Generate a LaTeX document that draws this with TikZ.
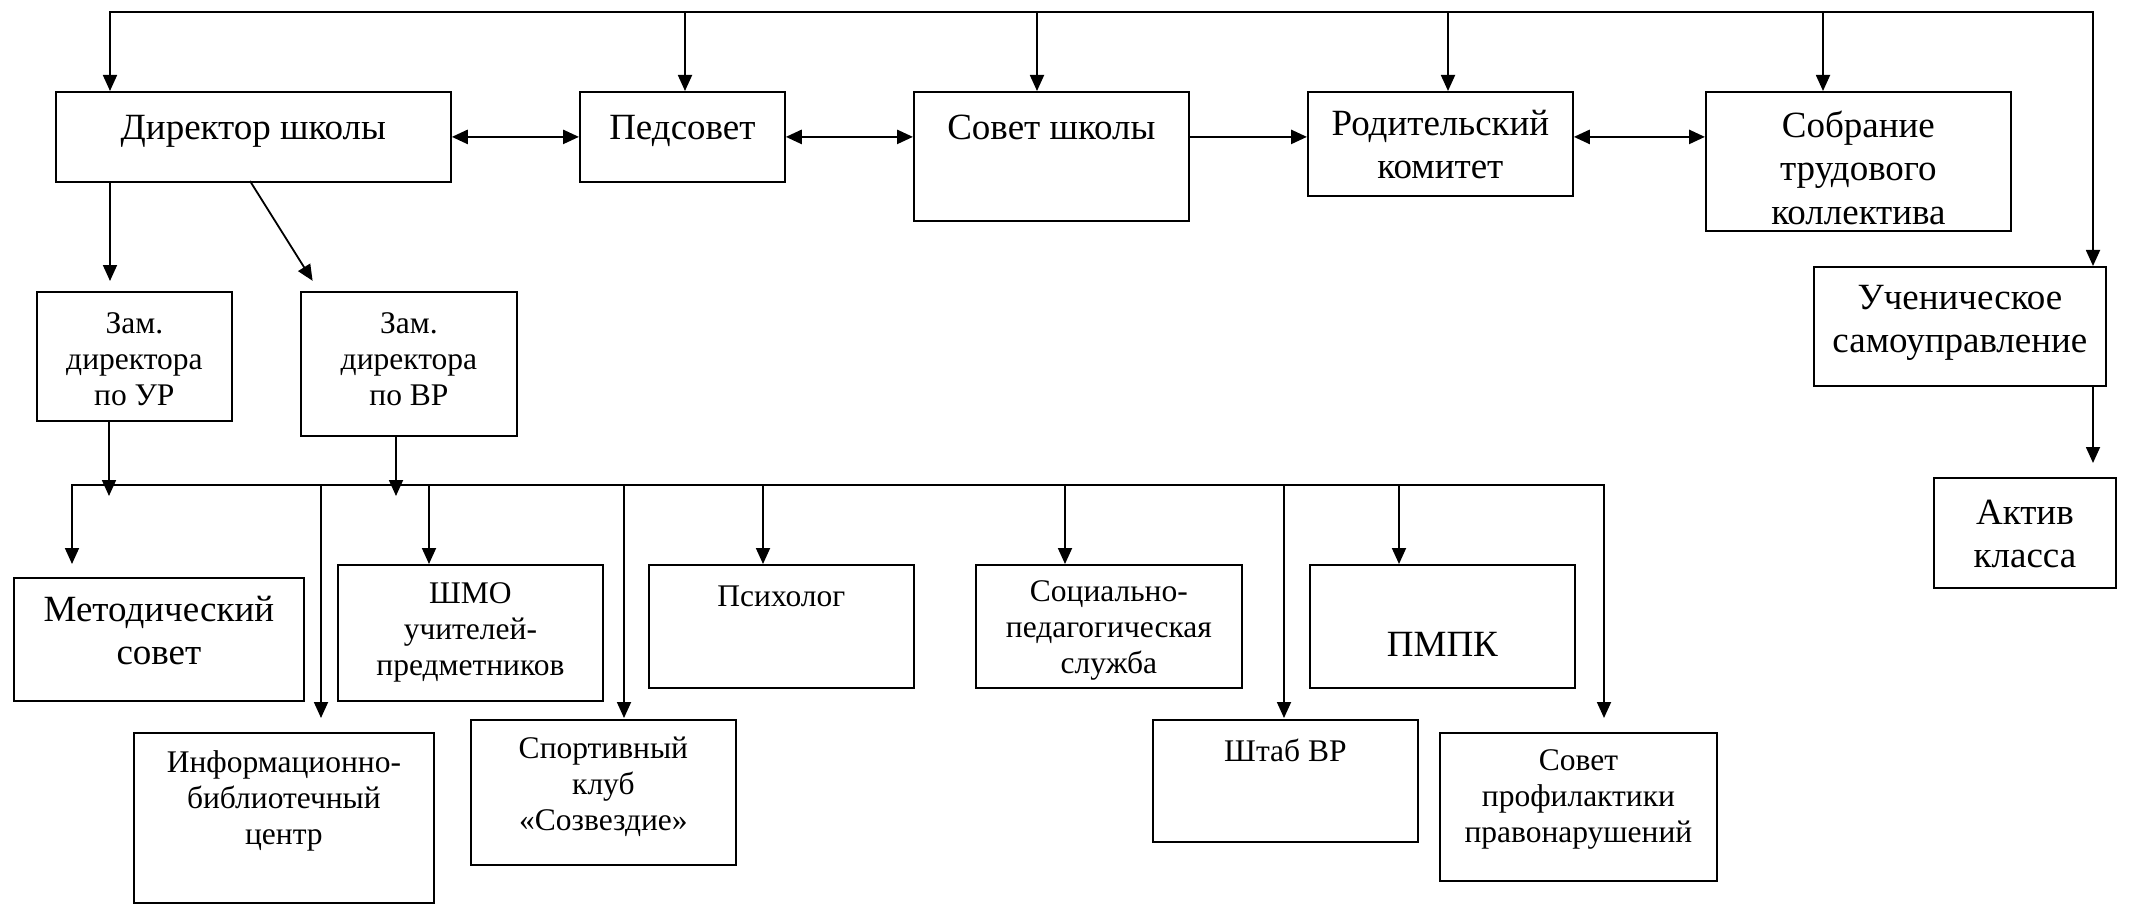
\documentclass[tikz,border=0pt]{standalone}
\usepackage{fontspec}
\setmainfont{Liberation Serif}
\usetikzlibrary{positioning,arrows.meta}
\begin{document}
\begin{tikzpicture}[x=1pt,y=-1pt,>={Triangle[length=16pt,width=14pt]},line width=1.8pt,
  box/.style={draw,inner sep=0pt,anchor=north west},
  txt/.style={inner sep=0pt,align=center,execute at begin node=\strut},
  big/.style={txt,font=\fontsize{37}{43.5}\selectfont},
  small/.style={txt,font=\fontsize{31.5}{36}\selectfont},
  both/.style={<->,line width=2.6pt}]
\useasboundingbox (0,0) rectangle (2134,904);
% verkhniy ryad
\node[box,minimum width=395pt,minimum height=90pt] (dir) at (55,91) {};
\node[box,minimum width=205pt,minimum height=90pt] (ped) at (579,91) {};
\node[box,minimum width=275pt,minimum height=129pt] (sov) at (913,91) {};
\node[box,minimum width=265pt,minimum height=104pt] (rod) at (1307,91) {};
\node[box,minimum width=305pt,minimum height=139pt] (sob) at (1705,91) {};
\node[box,minimum width=292pt,minimum height=119pt] (uch) at (1813,266) {};
\node[box,minimum width=182pt,minimum height=110pt] (akt) at (1933,477) {};
\node[big,below=17pt of dir.north] (dirt) {Директор школы};
\node[big,below=17pt of ped.north] (pedt) {Педсовет};
\node[big,below=17pt of sov.north] (sovt) {Совет школы};
\node[big,below=18pt of rod.north] (rodt) {Родительский\\комитет};
\node[big,below=19pt of sob.north] (sobt) {Собрание\\трудового\\коллектива};
\node[big,below=18pt of uch.north] (ucht) {Ученическое\\самоуправление};
\node[big,below=22pt of akt.north] (aktt) {Актив\\класса};
% zamestiteli
\node[box,minimum width=195pt,minimum height=129pt] (zur) at (36,291) {};
\node[box,minimum width=216pt,minimum height=144pt] (zvr) at (300,291) {};
\node[small,below=21pt of zur.north] (zurt) {Зам.\\директора\\по УР};
\node[small,below=21pt of zvr.north] (zvrt) {Зам.\\директора\\по ВР};
% nizhniy ryad
\node[box,minimum width=290pt,minimum height=123pt] (met) at (13,577) {};
\node[box,minimum width=300pt,minimum height=170pt] (ibc) at (133,732) {};
\node[box,minimum width=265pt,minimum height=136pt] (shmo) at (337,564) {};
\node[box,minimum width=265pt,minimum height=145pt] (spo) at (470,719) {};
\node[box,minimum width=265pt,minimum height=123pt] (psy) at (648,564) {};
\node[box,minimum width=266pt,minimum height=123pt] (soc) at (975,564) {};
\node[box,minimum width=265pt,minimum height=122pt] (sht) at (1152,719) {};
\node[box,minimum width=265pt,minimum height=123pt] (pmpk) at (1309,564) {};
\node[box,minimum width=277pt,minimum height=148pt] (spr) at (1439,732) {};
\node[big,below=18pt of met.north] (mett) {Методический\\совет};
\node[small,below=18pt of ibc.north] (ibct) {Информационно-\\библиотечный\\центр};
\node[small,below=18pt of shmo.north] (shmot) {ШМО\\учителей-\\предметников};
\node[small,below=17pt of spo.north] (spot) {Спортивный\\клуб\\«Созвездие»};
\node[small,below=16pt of psy.north] (psyt) {Психолог};
\node[small,below=16pt of soc.north] (soct) {Социально-\\педагогическая\\служба};
\node[small,below=16pt of sht.north] (shtt) {Штаб ВР};
\node[big,below=61pt of pmpk.north] (pmpkt) {ПМПК};
\node[small,below=17pt of spr.north] (sprt) {Совет\\профилактики\\правонарушений};
% shiny
\coordinate (t1) at (110,12); \coordinate (t2) at (685,12); \coordinate (t3) at (1037,12);
\coordinate (t4) at (1448,12); \coordinate (t5) at (1823,12); \coordinate (t6) at (2093,12);
\coordinate (b1) at (72,485); \coordinate (b2) at (321,485); \coordinate (b3) at (429,485);
\coordinate (b4) at (624,485); \coordinate (b5) at (763,485); \coordinate (b6) at (1065,485);
\coordinate (b7) at (1284,485); \coordinate (b8) at (1399,485); \coordinate (b9) at (1604,485);
\coordinate (u1) at (109,496); \coordinate (u2) at (396,496);
\coordinate (d1) at (250,181); \coordinate (d2) at (319,291);
\draw[<->] (t1 |- dir.north) -- (t1) -- (t6) -- (t6 |- uch.north);
\foreach \t/\n in {t2/ped,t3/sov,t4/rod,t5/sob}
  \draw[->] (\t) -- (\t |- \n.north);
\draw[both] (dir.east) -- (ped.west);
\draw[both] (ped.east) -- (ped.east -| sov.west);
\draw[->,line width=2.6pt] (sov.east |- ped.east) -- (rod.west |- ped.east);
\draw[both] (rod.east |- ped.east) -- (sob.west |- ped.east);
\draw[->,shorten >=10pt] (t1 |- dir.south) -- (t1 |- zur.north);
\draw[->,shorten >=12pt] (d1) -- (d2);
\draw[->,shorten >=14pt] (t6 |- uch.south) -- (t6 |- akt.north);
\draw[->] (u1 |- zur.south) -- (u1);
\draw[->] (u2 |- zvr.south) -- (u2);
\draw[<->,shorten <=13pt,shorten >=14pt] (b1 |- met.north) -- (b1) -- (b9) -- (b9 |- spr.north);
\foreach \b/\n/\s in {b2/ibc/14,b3/shmo/0,b4/spo/1,b5/psy/0,b6/soc/0,b7/sht/1,b8/pmpk/0}
  \draw[->,shorten >=\s pt] (\b) -- (\b |- \n.north);
\end{tikzpicture}
\end{document}
